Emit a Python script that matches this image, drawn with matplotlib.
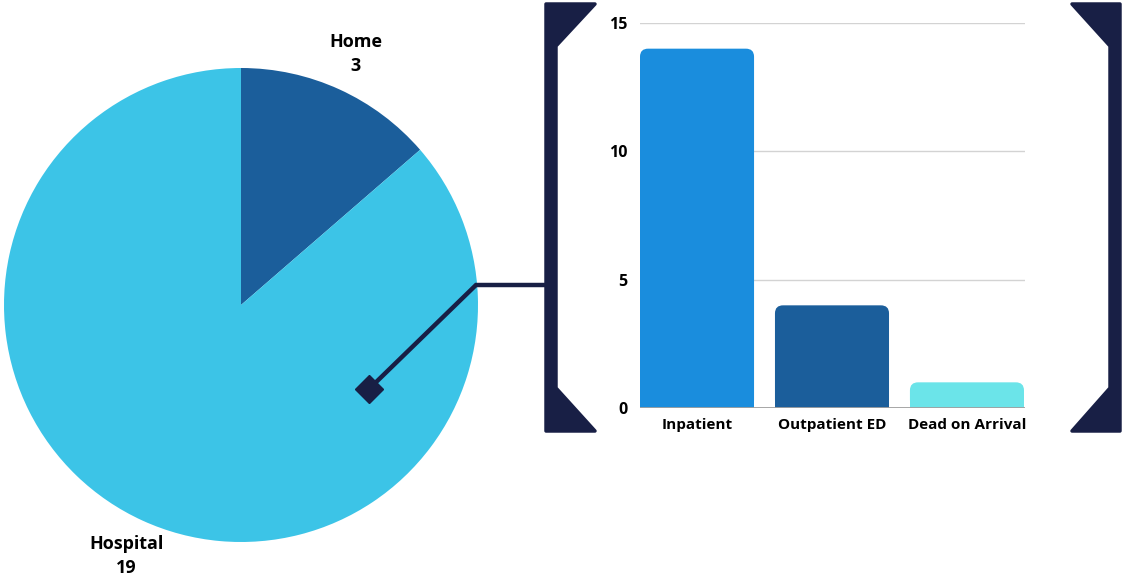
import matplotlib.pyplot as plt
from matplotlib.patches import FancyBboxPatch, Polygon

plt.rcParams["font.family"] = ["Open Sans", "DejaVu Sans"]
plt.rcParams["font.weight"] = "bold"

# data
place_labels = ["Home", "Hospital"]
place_counts = [3, 19]
place_colors = ["#1b5e9b", "#3cc4e7"]

care_labels = ["Inpatient", "Outpatient ED", "Dead on Arrival"]
care_counts = [14, 4, 1]
care_colors = ["#1a8ddd", "#1b5e9b", "#6be4e9"]

navy = "#181f45"
W, H = 1122, 578

fig = plt.figure(figsize=(W / 100, H / 100), dpi=100)

# pie (pixel box: center 241,305, radius 237)
ax_pie = fig.add_axes([4 / W, (H - 542) / H, 474 / W, 474 / H])
ax_pie.pie(
    place_counts,
    labels=[f"{l}\n{v}" for l, v in zip(place_labels, place_counts)],
    colors=place_colors,
    startangle=90,
    counterclock=False,
    labeldistance=1.165,
    textprops=dict(ha="center", va="center", fontsize=13, fontweight="bold",
                   linespacing=1.45),
    wedgeprops=dict(linewidth=0),
)
ax_pie.set_xlim(-1, 1)
ax_pie.set_ylim(-1, 1)
ax_pie.set_aspect("equal")

# bars
ax_bar = fig.add_axes([640 / W, (H - 408) / H, 385 / W, 385 / H])
bars = ax_bar.bar(range(len(care_counts)), care_counts, width=0.845, color=care_colors)
ax_bar.set_xlim(-0.4225, 2.43)
ax_bar.set_ylim(0, 15)

# round the top corners
for b, c in zip(bars, care_colors):
    x, y = b.get_x(), b.get_y()
    w, h = b.get_width(), b.get_height()
    b.set_visible(False)
    rad_x = 0.06
    asp = 5.2
    ax_bar.add_patch(FancyBboxPatch((x, y), w, h, boxstyle=f"round,pad=0,rounding_size={rad_x}",
                                    mutation_aspect=asp, facecolor=c, edgecolor="none", zorder=2))
    ax_bar.add_patch(plt.Rectangle((x, y), w, min(h, 0.5), facecolor=c, edgecolor="none", zorder=2))

ax_bar.set_yticks([0, 5, 10, 15])
ax_bar.set_xticks(range(len(care_labels)))
ax_bar.set_xticklabels(care_labels)
for s in ax_bar.spines.values():
    s.set_visible(False)
ax_bar.grid(axis="y", color="#d3d3d3", linewidth=1)
ax_bar.set_axisbelow(True)
ax_bar.axhline(0, color="#a0a0a0", linewidth=1.3, zorder=3)
ax_bar.tick_params(axis="y", length=0, pad=9, labelsize=11.5)
ax_bar.tick_params(axis="x", length=0, pad=7, labelsize=11)
for t in ax_bar.get_xticklabels() + ax_bar.get_yticklabels():
    t.set_fontweight("bold")

# overlay for brackets and connector (pixel coordinates)
ov = fig.add_axes([0, 0, 1, 1], zorder=5)
ov.set_xlim(0, W)
ov.set_ylim(H, 0)
ov.axis("off")
ov.patch.set_alpha(0)

left_br = [(546, 4), (595, 4), (556, 46), (556, 388), (595, 431), (546, 431)]
right_br = [(1120, 4), (1072, 4), (1110, 46), (1110, 388), (1072, 431), (1120, 431)]
for pts in (left_br, right_br):
    ov.add_patch(Polygon(pts, closed=True, facecolor=navy, edgecolor=navy,
                         linewidth=2.5, joinstyle="round"))

ov.plot([369, 476, 548], [389, 285, 285], color=navy, linewidth=3.2,
        solid_joinstyle="miter", solid_capstyle="butt")
ov.plot([369], [389], marker="D", markersize=14, color=navy)

fig.savefig("out.png", dpi=100)
